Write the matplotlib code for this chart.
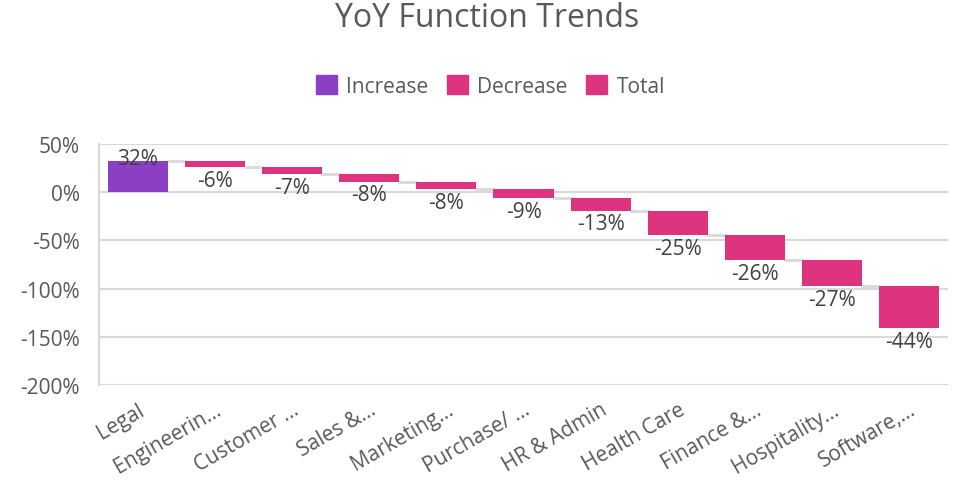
import numpy as np
import matplotlib.pyplot as plt
from matplotlib.patches import Patch

categories = ["Legal", "Engineerin...", "Customer ...", "Sales &...", "Marketing...",
              "Purchase/ ...", "HR & Admin", "Health Care", "Finance &...",
              "Hospitality...", "Software,..."]
changes = [32, -6, -7, -8, -8, -9, -13, -25, -26, -27, -44]
labels = ["32%", "-6%", "-7%", "-8%", "-8%", "-9%", "-13%", "-25%", "-26%", "-27%", "-44%"]

purple = "#8B3FC4"
pink = "#DE3480"
grey_txt = "#595959"
grid_c = "#D9D9D9"

plt.rcParams['font.family'] = ['Open Sans', 'DejaVu Sans']

vals = np.array(changes, dtype=float)
ends = np.cumsum(vals)
starts = ends - vals
x = np.arange(len(categories))

fig = plt.figure(figsize=(9.56, 4.89), dpi=100)
ax = fig.add_axes([0.1036, 0.2106, 0.888, 0.4929])

colors = [purple if v > 0 else pink for v in vals]
ax.bar(x, vals, bottom=starts, width=0.78, color=colors, zorder=3)

# connectors
for i in range(len(x) - 1):
    ax.plot([x[i] + 0.39, x[i + 1] - 0.39], [ends[i], ends[i]], color=grid_c, lw=2, zorder=2)

# data labels
for i in range(len(x)):
    if vals[i] > 0:
        ax.text(x[i], ends[i] + 3, labels[i], ha="center", va="center", fontsize=15, color="#404040", zorder=4)
    else:
        ax.text(x[i], ends[i] - 3, labels[i], ha="center", va="top", fontsize=15, color="#404040", zorder=4)

ax.set_xlim(-0.5, len(x) - 0.5)
ax.set_ylim(-200, 50)
ax.set_yticks([50, 0, -50, -100, -150, -200])
ax.set_yticklabels(["50%", "0%", "-50%", "-100%", "-150%", "-200%"])
ax.yaxis.grid(True, color=grid_c, lw=1.5, zorder=0)
ax.set_axisbelow(True)
for s in ["top", "right", "bottom"]:
    ax.spines[s].set_visible(False)
ax.spines["left"].set_color(grid_c)
ax.spines["left"].set_linewidth(1.5)
ax.tick_params(axis="both", length=0, labelsize=15, colors=grey_txt)
ax.tick_params(axis="y", pad=14)

ax.set_xticks(x)
ax.set_xticklabels(categories, rotation=30, ha="right", rotation_mode="anchor", fontsize=15)
ax.tick_params(axis="x", pad=10)

fig.text(0.51, 0.963, "YoY Function Trends", ha="center", va="center", fontsize=23, color=grey_txt)

handles = [Patch(color=purple, label="Increase"), Patch(color=pink, label="Decrease"),
           Patch(color=pink, label="Total")]
fig.legend(handles=handles, loc="center", bbox_to_anchor=(0.513, 0.822), ncol=3, frameon=False,
           fontsize=15, labelcolor=grey_txt, handlelength=1.0, handleheight=1.0,
           handletextpad=0.45, columnspacing=0.9)

fig.savefig("out.png", dpi=100)
